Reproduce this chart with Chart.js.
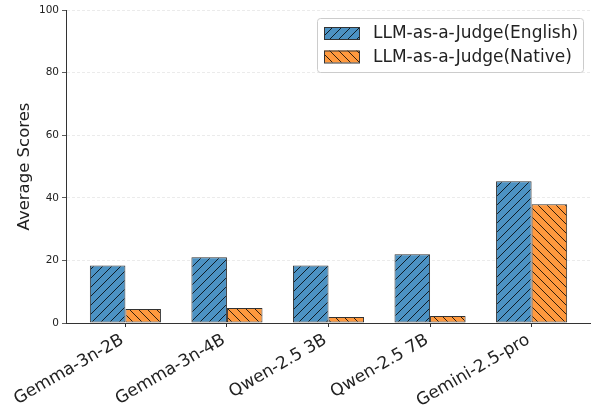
<!DOCTYPE html>
<html><head><meta charset="utf-8">
<script src="https://cdn.jsdelivr.net/npm/chart.js@4.4.1/dist/chart.umd.min.js"></script>
<style>html,body{margin:0;padding:0;background:#fff}#wrap{width:591px;height:405px;position:relative}</style>
</head><body><div id="wrap"><canvas id="c" width="591" height="405"></canvas></div>
<script>
const categories = ['Gemma-3n-2B', 'Gemma-3n-4B', 'Qwen-2.5 3B', 'Qwen-2.5 7B', 'Gemini-2.5-pro'];
const englishScores = [18.4, 21.0, 18.4, 22.0, 45.3];
const nativeScores = [4.5, 4.8, 1.9, 2.2, 37.9];
const seriesNames = ['LLM-as-a-Judge(English)', 'LLM-as-a-Judge(Native)'];
const yTicks = [0, 20, 40, 60, 80, 100];

const FONT = "'DejaVu Sans', 'Liberation Sans', sans-serif";
const EDGE = '#333333';
const TEXT = '#222222';

function makeHatch(bg, forward) {
  const s = 9;
  const cv = document.createElement('canvas');
  cv.width = s; cv.height = s;
  const g = cv.getContext('2d');
  g.fillStyle = bg; g.fillRect(0, 0, s, s);
  g.strokeStyle = 'rgba(0,0,0,0.8)'; g.lineWidth = 1;
  g.beginPath();
  if (forward) {
    g.moveTo(-1, s + 1); g.lineTo(s + 1, -1);
    g.moveTo(-1, 1); g.lineTo(1, -1);
    g.moveTo(s - 1, s + 1); g.lineTo(s + 1, s - 1);
  } else {
    g.moveTo(-1, -1); g.lineTo(s + 1, s + 1);
    g.moveTo(s - 1, -1); g.lineTo(s + 1, 1);
    g.moveTo(-1, s - 1); g.lineTo(1, s + 1);
  }
  g.stroke();
  return g.createPattern(cv, 'repeat');
}
const ctx = document.getElementById('c').getContext('2d');
const blueHatch = makeHatch('#4c92c3', true);
const orangeHatch = makeHatch('#ff993e', false);

const legendPlugin = {
  id: 'insideLegend',
  afterDraw(chart) {
    const c = chart.ctx, a = chart.chartArea;
    const w = 266, h = 54;
    const x0 = a.right - 8 - w, y0 = a.top + 8;
    c.save();
    c.beginPath();
    c.roundRect(x0 + 0.5, y0 + 0.5, w, h, 3);
    c.fillStyle = 'rgba(255,255,255,0.8)';
    c.fill();
    c.strokeStyle = '#cccccc'; c.lineWidth = 1; c.stroke();
    const fills = [blueHatch, orangeHatch];
    c.font = '17px ' + FONT;
    c.textBaseline = 'middle';
    c.fillStyle = TEXT;
    seriesNames.forEach((name, i) => {
      const py = y0 + 9 + i * 23.5;
      c.fillStyle = fills[i];
      c.fillRect(x0 + 7, py, 35, 12);
      c.strokeStyle = EDGE; c.lineWidth = 1;
      c.strokeRect(x0 + 7.5, py + 0.5, 35, 12);
      c.fillStyle = TEXT;
      c.fillText(name, x0 + 56, py + 7);
    });
    c.restore();
  }
};

new Chart(ctx, {
  type: 'bar',
  data: {
    datasets: [
      { label: seriesNames[0], data: englishScores.map((v, i) => ({ x: i, y: v })),
        backgroundColor: blueHatch, borderColor: EDGE, borderWidth: 1, borderSkipped: false,
        categoryPercentage: 0.7, barPercentage: 1.0 },
      { label: seriesNames[1], data: nativeScores.map((v, i) => ({ x: i, y: v })),
        backgroundColor: orangeHatch, borderColor: EDGE, borderWidth: 1, borderSkipped: false,
        categoryPercentage: 0.7, barPercentage: 1.0 }
    ]
  },
  options: {
    responsive: false,
    animation: false,
    devicePixelRatio: 1,
    layout: { padding: { top: 10, right: 0, left: 0, bottom: 0 } },
    plugins: { legend: { display: false }, tooltip: { enabled: false } },
    scales: {
      x: {
        type: 'linear', min: -0.585, max: 4.585, offset: false,
        afterBuildTicks: s => { s.ticks = categories.map((_, i) => ({ value: i })); },
        afterFit: s => { s.height = 82; },
        grid: { display: true, drawOnChartArea: false, drawTicks: true, tickLength: 4, tickColor: EDGE, offset: false },
        border: { display: true, color: EDGE, width: 1 },
        ticks: { autoSkip: false, minRotation: 30, maxRotation: 30, padding: 3, labelOffset: -3, color: TEXT,
          font: { family: FONT, size: 17 }, callback: v => categories[v] ?? '' }
      },
      y: {
        min: 0, max: 100,
        afterBuildTicks: s => { s.ticks = yTicks.map(v => ({ value: v })); },
        afterFit: s => { s.width = 66; },
        grid: { color: 'rgba(0,0,0,0.1)', tickColor: EDGE, tickLength: 4, lineWidth: 0.8 },
        border: { display: true, color: EDGE, width: 1, dash: [3, 2] },
        ticks: { padding: 3, color: TEXT, font: { family: FONT, size: 10.5 } },
        title: { display: true, text: 'Average Scores', color: TEXT, font: { family: FONT, size: 16.5 }, padding: { top: 15, bottom: 0 } }
      }
    }
  },
  plugins: [legendPlugin]
});
</script>
</body></html>
